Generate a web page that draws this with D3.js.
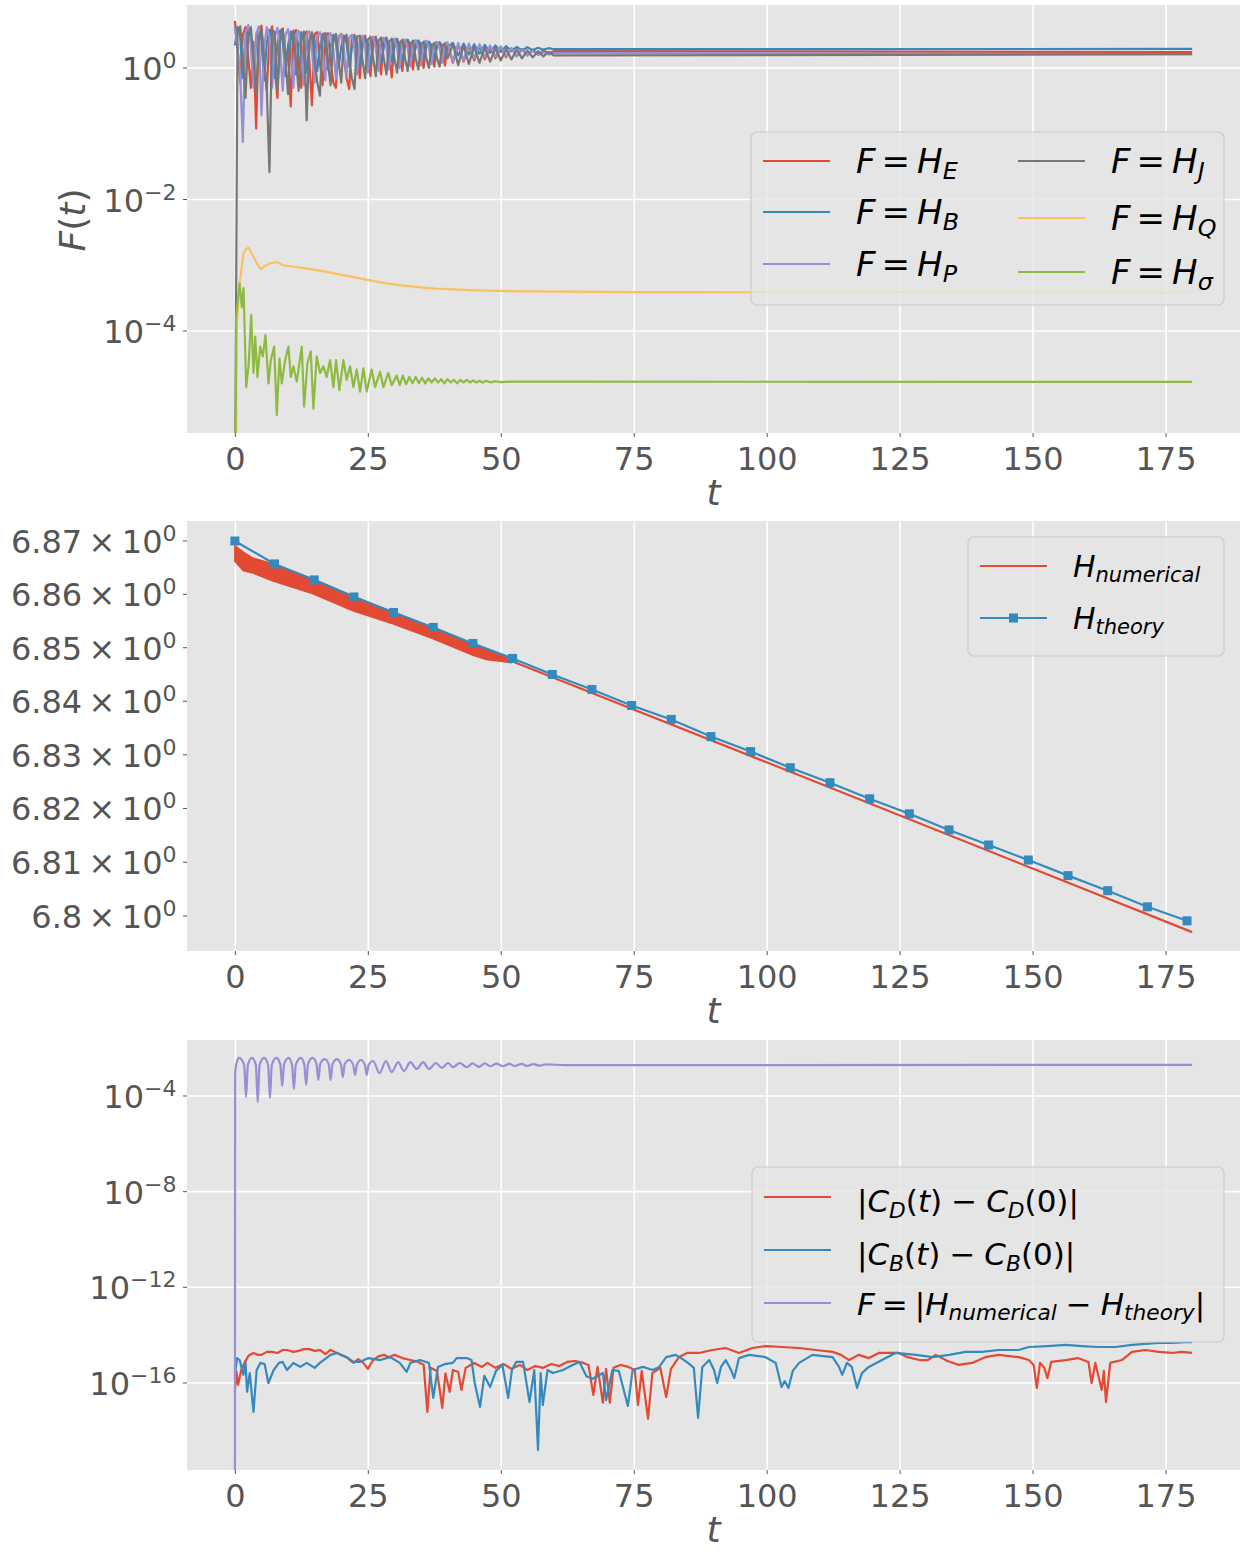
<!DOCTYPE html>
<html lang="en">
<head>
<meta charset="UTF-8">
<title>Hamiltonian diagnostics</title>
<style>
  body { margin: 0; background: #fff; }
  text { font-family: "DejaVu Sans", sans-serif; }
</style>
</head>
<body>
<svg id="svg" width="1244" height="1552"></svg>
<script src="https://d3js.org/d3.v7.min.js"></script>
<script>
// ------ DATA -----------------------------------------------
const xTicks = [0, 25, 50, 75, 100, 125, 150, 175]
const p1Exps = [0, -2, -4]
const p2Ticks = [6.87, 6.86, 6.85, 6.84, 6.83, 6.82, 6.81, 6.8]
const p2Labels = ['6.87', '6.86', '6.85', '6.84', '6.83', '6.82', '6.81', '6.8']
const p3Exps = [-4, -8, -12, -16]

// panel 1, shared sampling times for the four large quantities
const tOsc = [0, 0.5, 1, 1.5, 2, 2.5, 3, 3.5, 4, 4.5,
  5, 5.5, 6, 6.5, 7, 7.5, 8, 8.5, 9, 9.5,
  10, 10.5, 11, 11.5, 12, 12.5, 13, 13.5, 14, 14.5,
  15, 15.5, 16, 16.5, 17, 17.5, 18, 18.5, 19, 19.5,
  20, 20.5, 21, 21.5, 22, 22.5, 23, 23.5, 24, 24.5,
  25, 25.5, 26, 26.5, 27, 27.5, 28, 28.5, 29, 29.5,
  30, 30.5, 31, 31.5, 32, 32.5, 33, 33.5, 34, 34.5,
  35, 35.5, 36, 36.5, 37, 37.5, 38, 38.5, 39, 39.5,
  40,
  41, 42, 43, 44, 45, 46, 47, 48, 49, 50,
  51, 52, 53, 54, 55, 56, 57, 58, 59, 60,
  180]

const hE = [5.2, 2.0, 0.6, 3.2, 4.2, 1.5, 0.5, 2.5, 0.12, 3.5,
  4.4, 1.2, 0.45, 3.0, 4.3, 1.0, 0.35, 3.6, 4.0, 1.4,
  2.0, 0.26, 3.2, 3.8, 1.1, 0.5, 3.0, 3.6, 1.3, 0.27,
  3.3, 3.5, 1.2, 0.55, 3.0, 3.4, 1.3, 0.6, 0.5, 3.0,
  3.3, 1.4, 0.7, 0.48, 2.9, 3.2, 1.5, 0.7, 2.8, 3.1,
  1.6, 0.75, 2.7, 3.0, 1.6, 0.8, 2.7, 2.9, 1.6, 0.72,
  2.6, 2.8, 1.7, 0.9, 2.5, 2.7, 1.7, 0.95, 2.4, 2.6,
  1.8, 1.0, 2.4, 2.5, 1.8, 1.05, 2.3, 2.45, 1.8, 1.1,
  2.3,
  1.2, 2.3, 1.25, 2.2, 1.3, 2.15, 1.35, 2.1, 1.4, 2.05,
  1.45, 2.0, 1.5, 1.95, 1.55, 1.9, 1.6, 1.85, 1.68, 1.8,
  1.75]

const hB = [2.2, 4.2, 3.0, 0.7, 2.6, 4.0, 2.8, 0.6, 2.5, 3.9,
  2.6, 0.65, 2.4, 3.8, 2.7, 0.7, 2.3, 3.7, 2.6, 0.75,
  2.2, 3.6, 2.6, 0.8, 2.2, 3.5, 2.5, 0.85, 2.1, 3.4,
  2.5, 0.9, 2.1, 3.3, 2.4, 0.95, 2.1, 3.2, 2.4, 1.0,
  2.1, 3.1, 2.4, 1.05, 2.1, 3.0, 2.4, 1.1, 2.1, 2.9,
  2.3, 1.15, 2.1, 2.85, 2.3, 1.2, 2.1, 2.8, 2.3, 1.25,
  2.1, 2.7, 2.3, 1.3, 2.1, 2.65, 2.3, 1.35, 2.1, 2.6,
  2.3, 1.4, 2.1, 2.5, 2.2, 1.45, 2.1, 2.45, 2.2, 1.5,
  2.1,
  2.4, 1.55, 2.35, 1.6, 2.3, 1.65, 2.25, 1.7, 2.2, 1.75,
  2.15, 1.8, 2.1, 1.83, 2.07, 1.86, 2.03, 1.9, 2.0, 1.93,
  1.95]

const hP = [4.0, 2.0, 0.8, 0.075, 3.5, 4.5, 2.2, 0.5, 3.3, 4.3,
  0.19, 2.0, 4.2, 3.0, 0.5, 3.0, 4.1, 2.0, 0.45, 3.2,
  3.9, 1.8, 0.5, 3.3, 3.7, 1.8, 0.55, 3.2, 3.6, 1.8,
  0.6, 3.1, 3.5, 1.9, 0.65, 3.0, 3.4, 1.9, 0.7, 2.9,
  3.3, 1.9, 0.75, 2.9, 3.2, 1.9, 0.8, 2.8, 3.1, 2.0,
  0.85, 2.7, 3.0, 2.0, 0.9, 2.7, 2.9, 2.0, 0.95, 2.6,
  2.8, 2.0, 1.0, 2.6, 2.7, 2.0, 1.05, 2.5, 2.65, 2.0,
  1.1, 2.5, 2.6, 2.0, 1.15, 2.4, 2.5, 2.0, 1.2, 2.4,
  2.45,
  1.25, 2.4, 1.3, 2.35, 1.4, 2.3, 1.45, 2.2, 1.5, 2.15,
  1.5, 2.0, 1.52, 1.9, 1.55, 1.8, 1.58, 1.72, 1.6, 1.68,
  1.63]

const hJ = [1e-7, 3.5, 4.3, 1.5, 0.35, 3.0, 4.2, 1.4, 0.4, 2.8,
  4.0, 1.3, 0.5, 0.026, 3.8, 3.5, 0.45, 2.5, 3.8, 1.4,
  0.4, 2.8, 3.7, 1.3, 0.45, 2.8, 3.6, 0.16, 2.5, 3.5,
  1.3, 0.6, 0.38, 3.2, 3.4, 1.2, 0.55, 2.8, 3.3, 1.3,
  0.6, 2.8, 3.2, 1.3, 0.7, 0.48, 3.0, 3.1, 1.3, 0.7,
  2.7, 3.0, 1.4, 0.75, 2.6, 2.9, 1.4, 0.8, 2.5, 2.8,
  1.4, 0.85, 2.4, 2.7, 1.4, 0.9, 2.3, 2.6, 1.4, 0.95,
  2.3, 2.5, 1.4, 1.0, 2.2, 2.4, 1.4, 1.05, 2.2, 2.35,
  1.4,
  2.3, 1.1, 2.2, 1.15, 2.1, 1.2, 2.05, 1.25, 2.0, 1.3,
  1.95, 1.35, 1.9, 1.4, 1.85, 1.45, 1.8, 1.5, 1.75, 1.55,
  1.62]

// [t, F]
const hQ = [[0, 1e-8], [0.38, 1.3e-4], [0.69, 3.0e-4], [1.13, 7.5e-4], [1.63, 1.5e-3], [2.07, 1.75e-3],
  [2.57, 1.85e-3], [3.0, 1.6e-3], [3.5, 1.35e-3], [4.13, 1.07e-3], [4.88, 8.7e-4], [5.7, 9.8e-4],
  [6.63, 1.07e-3], [7.76, 1.12e-3], [9.14, 1.0e-3], [11.01, 9.5e-4], [13.52, 8.9e-4], [16.02, 8.3e-4],
  [19.15, 7.4e-4], [22.29, 6.6e-4], [25.42, 5.9e-4], [28.55, 5.3e-4], [31.68, 4.9e-4], [34.81, 4.6e-4],
  [37.94, 4.4e-4], [41.07, 4.3e-4], [44.21, 4.2e-4], [47.34, 4.1e-4], [55, 4.0e-4], [75, 3.9e-4], [180, 3.85e-4]]

const hSigma = [[0, 1e-8], [0.25, 1.65e-4], [0.88, 5.3e-4], [1.31, 2.3e-4], [1.63, 4.5e-4], [2.13, 1.4e-5],
  [2.57, 2.9e-5], [3.07, 1.75e-4], [3.5, 2.3e-5], [3.82, 8.2e-5], [4.25, 2.0e-5], [4.76, 5.8e-5],
  [5.26, 4.1e-5], [5.76, 8.7e-5], [6.32, 1.6e-5], [6.76, 3.6e-5], [7.39, 5.8e-5], [7.88, 5.3e-6],
  [8.39, 3.8e-5], [8.83, 1.6e-5], [9.45, 3.6e-5], [10.08, 5.8e-5], [10.51, 2.0e-5], [11.01, 2.9e-5],
  [11.64, 1.7e-5], [12.58, 5.8e-5], [13.02, 7.1e-6], [13.64, 3.2e-5], [14.27, 4.9e-5], [14.77, 6.6e-6],
  [15.39, 4.1e-5], [16.02, 2.3e-5], [16.65, 2.9e-5], [17.27, 2.0e-5], [17.9, 3.6e-5], [18.53, 1.4e-5],
  [19.03, 3.6e-5], [19.65, 1.26e-5], [20.41, 3.6e-5], [21.03, 1.8e-5], [21.66, 2.9e-5], [22.29, 1.4e-5],
  [22.91, 2.6e-5], [23.54, 1.2e-5], [24.17, 2.7e-5], [24.79, 1.2e-5], [25.73, 2.6e-5], [26.36, 1.4e-5],
  [27.3, 2.4e-5], [27.92, 1.4e-5], [28.86, 2.3e-5], [29.49, 1.5e-5], [30.43, 2.1e-5], [31.0, 1.5e-5],
  [31.6, 2.1e-5], [32.2, 1.55e-5], [32.8, 2.0e-5], [33.4, 1.6e-5], [34.0, 2.0e-5], [34.6, 1.6e-5],
  [35.2, 1.95e-5], [35.8, 1.6e-5], [36.4, 1.9e-5], [37.0, 1.65e-5], [37.6, 1.9e-5], [38.2, 1.65e-5],
  [38.8, 1.85e-5], [39.4, 1.6e-5], [40.0, 1.85e-5], [40.6, 1.65e-5], [41.2, 1.8e-5], [41.8, 1.6e-5],
  [42.4, 1.8e-5], [43.0, 1.65e-5], [43.6, 1.8e-5], [44.2, 1.65e-5], [44.8, 1.78e-5], [45.4, 1.65e-5],
  [46.0, 1.75e-5], [46.6, 1.65e-5], [47.2, 1.75e-5], [48.0, 1.66e-5], [49.0, 1.72e-5], [50.0, 1.67e-5],
  [52, 1.7e-5], [180, 1.68e-5]]

// panel 2: [t, upper, lower] of the fast-oscillating numerical band, then the single line
const hNumBand = [[0, 6.8691, 6.8662], [1.6, 6.8679, 6.8644], [3.4, 6.8668, 6.8640], [7.2, 6.8657, 6.8625],
  [14.7, 6.8629, 6.8601], [22.2, 6.8597, 6.8569], [29.7, 6.8567, 6.8545], [37.2, 6.8538, 6.8517],
  [44.8, 6.8506, 6.8486], [47.3, 6.8497, 6.8478], [52, 6.8478, 6.8472]]
const hNumLine = [[52, 6.8475], [100, 6.8286], [180, 6.7970]]
const thT = [0, 7.46, 14.92, 22.38, 29.84, 37.3, 44.76, 52.22, 59.68, 67.14, 74.6, 82.06, 89.52,
  96.98, 104.44, 111.9, 119.36, 126.82, 134.28, 141.74, 149.2, 156.66, 164.12, 171.58, 179.04]
const thV = [6.8700, 6.8657, 6.8627, 6.8595, 6.8566, 6.8538, 6.8508, 6.8480, 6.8450, 6.8422, 6.8392,
  6.8366, 6.8334, 6.8306, 6.8276, 6.8248, 6.8218, 6.8190, 6.8160, 6.8132, 6.8104, 6.8075, 6.8047,
  6.8017, 6.7991]

// panel 3: [t, value]
const cD = [[0, 4.3e-17], [0.3, 2.9e-16], [0.6, 8.3e-17], [1.2, 3.5e-16], [1.9, 7.6e-16], [2.6, 1.4e-15],
  [3.5, 1.8e-15], [4.3, 1.5e-15], [5.0, 1.5e-15], [6.0, 2.0e-15], [7.0, 2.0e-15], [8.0, 1.8e-15],
  [9.0, 2.4e-15], [9.8, 2.4e-15], [11.0, 2.0e-15], [12.0, 2.2e-15], [13.0, 2.6e-15], [14.0, 2.6e-15],
  [15.0, 2.2e-15], [16.0, 2.4e-15], [17.0, 1.6e-15], [18.0, 2.4e-15], [19.2, 1.8e-15], [20.2, 1.4e-15],
  [21.0, 1.2e-15], [22.3, 6.9e-16], [23.2, 1.0e-15], [24.0, 7.6e-16], [25.0, 3.9e-16], [26.0, 9.1e-16],
  [27.0, 1.3e-15], [28.0, 1.5e-15], [29.0, 1.2e-15], [30.0, 1.5e-15], [31.5, 1.1e-15], [33.0, 9.1e-16],
  [34.5, 7.6e-16], [35.5, 5.7e-16], [36.2, 6.2e-18], [36.8, 4.3e-16], [38.0, 3.2e-16], [39.0, 9.1e-18],
  [39.6, 2.5e-16], [40.4, 4.3e-17], [41.0, 3.5e-16], [42.0, 2.9e-16], [42.6, 5.1e-17], [43.4, 4.3e-16],
  [45.0, 6.9e-16], [46.5, 4.7e-16], [47.5, 6.9e-16], [49, 4.3e-16], [50.5, 6.2e-16], [52, 3.9e-16],
  [53.6, 5.7e-16], [55, 3.5e-16], [56.5, 5.1e-16], [58, 4.3e-16], [59.5, 6.2e-16], [61, 5.1e-16],
  [62.5, 7.6e-16], [64, 8.3e-16], [65.5, 6.9e-16], [66.5, 5.7e-16], [67.4, 3.2e-17], [68.2, 4.7e-16],
  [69.2, 1.5e-17], [69.8, 3.9e-16], [70.5, 1.5e-17], [71.2, 4.3e-16], [72.5, 5.7e-16], [74, 4.7e-16],
  [75.2, 3.5e-16], [75.8, 1.2e-17], [76.5, 3.2e-16], [77.7, 3.2e-18], [78.5, 2.6e-16], [80, 4.3e-16],
  [81.1, 2.6e-17], [82, 3.9e-16], [83.5, 1.2e-15], [85, 1.8e-15], [87.3, 1.8e-15], [89.8, 2.4e-15],
  [92.3, 2.9e-15], [94.8, 1.8e-15], [97.3, 2.9e-15], [99.8, 3.5e-15], [102.9, 3.2e-15], [106.1, 2.9e-15],
  [109.2, 2.4e-15], [112.4, 2.0e-15], [114, 1.5e-15], [115.5, 9.1e-16], [117.3, 1.5e-15], [119.2, 1.1e-15],
  [121.1, 1.8e-15], [124.8, 1.8e-15], [126.5, 1.2e-15], [128.7, 9.1e-16], [130.3, 9.1e-16], [131.8, 1.5e-15],
  [134, 8.3e-16], [136.1, 5.7e-16], [138.6, 6.9e-16], [141.1, 1.2e-15], [143.6, 1.5e-15], [147.4, 1.2e-15],
  [149.3, 9.1e-16], [150.2, 5.7e-16], [150.8, 6.2e-17], [151.4, 6.9e-16], [152.2, 4.3e-16], [152.8, 1.6e-16],
  [153.5, 7.6e-16], [156.2, 9.1e-16], [158.5, 1.1e-15], [160.5, 7.6e-16], [161.1, 1.0e-16], [161.8, 6.9e-16],
  [163.0, 5.1e-17], [163.4, 3.2e-16], [163.8, 1.6e-17], [164.6, 6.9e-16], [166.8, 9.1e-16], [168.7, 2.0e-15],
  [171.2, 2.4e-15], [173.7, 2.0e-15], [176.2, 1.8e-15], [178.0, 2.0e-15], [180, 1.8e-15]]

const cB = [[0, 2.0e-16], [0.4, 1.1e-15], [0.9, 9.1e-16], [1.6, 2.2e-16], [2.0, 6.9e-16], [2.3, 4.3e-17],
  [2.8, 2.6e-16], [3.5, 6.2e-18], [4.1, 3.5e-16], [4.8, 6.9e-16], [5.6, 6.2e-16], [6.3, 1.0e-16],
  [7.3, 3.5e-16], [8.3, 6.9e-16], [9.0, 7.6e-16], [9.8, 3.5e-16], [11.0, 6.9e-16], [12.3, 4.7e-16],
  [13.5, 6.9e-16], [15.0, 4.3e-16], [16.0, 6.9e-16], [18.0, 1.5e-15], [19.2, 1.8e-15], [21.0, 1.2e-15],
  [22.3, 7.6e-16], [23.5, 7.6e-16], [25.1, 1.1e-15], [27.3, 9.1e-16], [29.2, 1.2e-15], [31.0, 6.9e-16],
  [32.3, 2.9e-16], [33.0, 6.9e-16], [34.8, 9.1e-16], [36.5, 6.9e-16], [37.3, 2.4e-17], [38.2, 4.7e-16],
  [39.5, 6.2e-16], [41.0, 6.9e-16], [41.7, 1.1e-15], [43.6, 1.1e-15], [44.5, 9.1e-16], [45.1, 1.0e-16],
  [46.1, 1.0e-17], [46.9, 2.0e-16], [48.0, 6.8e-17], [49.1, 3.2e-16], [50.3, 5.7e-16], [51.4, 2.4e-17],
  [52.1, 3.5e-16], [52.9, 7.6e-16], [54.2, 7.6e-16], [55.4, 1.6e-17], [56.3, 3.5e-16], [57.0, 1.6e-19],
  [57.5, 2.6e-16], [57.9, 1.2e-17], [58.8, 3.5e-16], [59.8, 2.6e-16], [61.7, 3.5e-16], [63.5, 5.7e-16],
  [64.8, 7.6e-16], [66.1, 1.9e-16], [67.3, 1.5e-16], [69.2, 2.6e-16], [69.8, 1.9e-17], [71.0, 3.5e-16],
  [72.2, 3.2e-16], [73.9, 1.1e-17], [74.8, 3.5e-16], [76.7, 4.7e-16], [78.6, 3.5e-16], [79.8, 4.7e-16],
  [81.1, 1.2e-15], [82.9, 1.5e-15], [84.2, 1.0e-15], [85.2, 6.9e-16], [86.3, 4.3e-16], [87.1, 3.5e-18],
  [87.9, 4.7e-16], [89.2, 9.1e-16], [90.1, 3.5e-16], [90.7, 1.0e-16], [91.4, 4.7e-16], [92.3, 9.1e-16],
  [93.3, 3.5e-16], [93.9, 1.6e-16], [94.8, 1.1e-15], [96.7, 1.5e-15], [99.8, 1.2e-15], [101.7, 6.9e-16],
  [102.8, 6.8e-17], [103.4, 1.2e-16], [104.1, 6.2e-17], [104.9, 3.2e-16], [106.1, 6.9e-16], [108.6, 1.5e-15],
  [112.4, 1.2e-15], [113.6, 4.7e-16], [114.2, 2.2e-16], [115.1, 6.9e-16], [116.0, 4.7e-16], [117.0, 6.2e-17],
  [117.9, 2.6e-16], [119.2, 4.7e-16], [121.7, 9.1e-16], [124.2, 1.8e-15], [128.1, 1.5e-15], [131.2, 1.2e-15],
  [134.3, 1.5e-15], [137.4, 2.0e-15], [140.5, 2.0e-15], [143.6, 2.4e-15], [147.4, 2.4e-15], [149.3, 3.2e-15],
  [152.8, 3.5e-15], [156.2, 3.9e-15], [159.3, 3.5e-15], [162.4, 3.2e-15], [165.6, 3.2e-15], [168.7, 3.9e-15],
  [171.2, 4.3e-15], [173.7, 4.7e-15], [176.2, 4.7e-15], [178.7, 5.1e-15], [180, 5.1e-15]]

const hDiff = [[0, 1e-30], [0.05, 9.1e-4], [0.35, 2.6e-3], [0.8, 3.9e-3],
  [1.75, 2.0e-3], [2.1, 9.1e-5], [2.45, 2.0e-3], [3.2, 3.9e-3],
  [3.95, 2.0e-3], [4.3, 5.6e-5], [4.65, 2.0e-3], [5.5, 3.9e-3],
  [6.25, 2.0e-3], [6.6, 8.3e-5], [6.95, 2.0e-3], [7.8, 3.9e-3],
  [8.55, 2.1e-3], [8.9, 2.6e-4], [9.25, 2.1e-3], [10.1, 3.9e-3],
  [10.75, 2.0e-3], [11.1, 1.95e-4], [11.45, 2.0e-3], [12.4, 3.9e-3],
  [13.05, 2.1e-3], [13.4, 2.9e-4], [13.75, 2.1e-3], [14.6, 3.9e-3],
  [15.35, 2.2e-3], [15.7, 4.7e-4], [16.05, 2.2e-3], [16.9, 3.5e-3],
  [17.65, 2.1e-3], [18.0, 4.7e-4], [18.35, 2.1e-3], [19.2, 3.5e-3],
  [19.95, 2.1e-3], [20.3, 6.2e-4], [20.65, 2.1e-3], [21.5, 3.2e-3],
  [22.25, 2.0e-3], [22.6, 7.6e-4], [22.95, 2.0e-3], [23.7, 3.2e-3],
  [24.45, 2.0e-3], [24.8, 7.6e-4], [25.15, 2.0e-3], [26.0, 2.9e-3],
  [27.2, 9.1e-4], [28.4, 2.9e-3], [29.5, 1.0e-3], [30.7, 2.6e-3], [31.8, 1.1e-3], [33.0, 2.6e-3],
  [34.2, 1.35e-3], [35.4, 2.6e-3], [36.5, 1.35e-3], [37.8, 2.4e-3], [38.9, 1.5e-3], [40.1, 2.4e-3],
  [41.0, 1.6e-3], [42.3, 2.4e-3], [43.6, 1.6e-3], [44.7, 2.3e-3], [45.9, 1.65e-3], [47.0, 2.3e-3],
  [48.1, 1.75e-3], [49.2, 2.25e-3], [50.4, 1.75e-3], [51.6, 2.2e-3], [52.6, 1.8e-3], [53.9, 2.2e-3],
  [55.0, 1.8e-3], [56.1, 2.15e-3], [57.3, 1.85e-3], [58.5, 2.1e-3], [62, 1.95e-3], [180, 2.0e-3]]

// ------ SETUP ------------------------
const colors = { red: '#E24A33', blue: '#348ABD', purple: '#988ED5', gray: '#777777', yellow: '#FBC15E', green: '#8EBA42' }
const svg = d3.select('#svg')
const left = 187
const plotW = 1053
const lw = 2.2

const x = d3.scaleLinear().domain([-9, 189]).range([0, plotW])

const panels = [
  { top: 5, h: 428, y: d3.scaleLog().domain([10 ** -5.551, 10 ** 0.958]).range([428, 0]) },
  { top: 521, h: 430, y: d3.scaleLog().domain([6.7935, 6.87375]).range([430, 0]) },
  { top: 1040, h: 430, y: d3.scaleLog().domain([10 ** -19.638, 10 ** -1.659]).range([430, 0]) }
]

// draws frame, grid, ticks; returns the panel group
function drawPanel(p, i, hGrid) {
  const g = svg.append('g').attr('transform', `translate(${left},${p.top})`)
  g.append('rect').attr('width', plotW).attr('height', p.h).attr('fill', '#e5e5e5')
  g.append('clipPath').attr('id', 'clip' + i).append('rect').attr('width', plotW).attr('height', p.h)

  // vertical grid
  g.append('g')
    .call(d3.axisBottom(x).tickValues(xTicks).tickSize(p.h).tickFormat(''))
    .call(a => a.select('.domain').remove())
    .call(a => a.selectAll('line').attr('stroke', '#fff').attr('stroke-width', 1.6))
  // horizontal grid
  g.append('g').selectAll('line').data(hGrid).join('line')
    .attr('x1', 0).attr('x2', plotW)
    .attr('y1', d => p.y(d)).attr('y2', d => p.y(d))
    .attr('stroke', '#fff').attr('stroke-width', 1.6)

  // x axis
  g.append('g').attr('transform', `translate(0,${p.h})`)
    .call(d3.axisBottom(x).tickValues(xTicks).tickSize(4).tickPadding(10))
    .call(a => a.select('.domain').remove())
    .call(a => a.selectAll('line').attr('stroke', '#555'))
    .call(a => a.selectAll('text').attr('fill', '#555').attr('font-size', 32).attr('font-family', 'DejaVu Sans'))

  // x label
  g.append('text').attr('x', plotW / 2).attr('y', p.h + 72).attr('text-anchor', 'middle')
    .attr('font-size', 36).attr('font-style', 'italic').attr('fill', '#555').text('t')

  return g
}

function yTickLabels(g, p, vals, labelFn) {
  vals.forEach((v, k) => {
    const yy = p.y(v)
    g.append('line').attr('x1', -4).attr('x2', 0).attr('y1', yy).attr('y2', yy).attr('stroke', '#555')
    const txt = g.append('text').attr('x', -10.5).attr('y', yy + 12)
      .attr('text-anchor', 'end').attr('fill', '#555').attr('font-size', 32)
    labelFn(txt, v, k)
  })
}

function powLabel(txt, e) {
  txt.append('tspan').text('10')
  txt.append('tspan').attr('font-size', 22).attr('dy', -12).text(String(e).replace('-', '\u2212'))
}

// parts: [text, kind, dx]; kind: i italic, r roman, si italic subscript
function mathText(txt, parts, size) {
  let cur = 0
  parts.forEach(([s, kind, dx]) => {
    const sub = kind === 'si'
    const off = sub ? size * 0.19 : 0
    const ts = txt.append('tspan').text(s)
      .attr('font-size', sub ? size * 0.7 : size)
      .attr('font-style', kind === 'r' ? 'normal' : 'italic')
    if (off !== cur) ts.attr('dy', off - cur)
    if (dx) ts.attr('dx', dx)
    cur = off
  })
}

function legendBox(x0, y0, w, h) {
  svg.append('rect').attr('x', x0).attr('y', y0).attr('width', w).attr('height', h).attr('rx', 6)
    .attr('fill', '#e5e5e5').attr('fill-opacity', 0.8).attr('stroke', '#cccccc').attr('stroke-width', 1.2)
}

function legendEntry(lx, ly, color, parts, size, baseOff, marker) {
  svg.append('line').attr('x1', lx).attr('x2', lx + 67).attr('y1', ly).attr('y2', ly)
    .attr('stroke', color).attr('stroke-width', lw)
  if (marker) {
    svg.append('rect').attr('x', lx + 33.5 - 4.5).attr('y', ly - 4.5).attr('width', 9).attr('height', 9).attr('fill', color)
  }
  const txt = svg.append('text').attr('x', lx + 93).attr('y', ly + baseOff).attr('fill', '#000')
  mathText(txt, parts, size)
}

// ------ PANEL 1 ------------------------
{
  const p = panels[0]
  const g = drawPanel(p, 0, p1Exps.map(e => 10 ** e))
  yTickLabels(g, p, p1Exps.map(e => 10 ** e), (txt, v, k) => powLabel(txt, p1Exps[k]))
  g.append('text').attr('transform', `translate(${85 - left},${220 - p.top}) rotate(-90)`)
    .attr('text-anchor', 'middle').attr('fill', '#555')
    .call(t => mathText(t, [['F', 'i'], ['(', 'r'], ['t', 'i'], [')', 'r']], 36))

  const line = d3.line().x(d => x(d[0])).y(d => p.y(d[1]))
  const marks = g.append('g').attr('clip-path', 'url(#clip0)')
  const zipT = vals => tOsc.map((t, i) => [t, vals[i]]).filter(d => d[1] != null)
  const series = [
    [zipT(hE), colors.red], [zipT(hB), colors.blue], [zipT(hP), colors.purple],
    [zipT(hJ), colors.gray], [hQ, colors.yellow], [hSigma, colors.green]
  ]
  series.forEach(([d, c]) => {
    marks.append('path').datum(d).attr('d', line).attr('fill', 'none')
      .attr('stroke', c).attr('stroke-width', lw).attr('stroke-linejoin', 'round')
  })
}

// ------ PANEL 2 ------------------------
{
  const p = panels[1]
  const g = drawPanel(p, 1, [])
  yTickLabels(g, p, p2Ticks, (txt, v, k) => {
    txt.append('tspan').text(p2Labels[k] + '\u2009\u00d7\u200910')
    txt.append('tspan').attr('font-size', 22).attr('dy', -12).text('0')
  })
  const marks = g.append('g').attr('clip-path', 'url(#clip1)')
  const area = d3.area().x(d => x(d[0])).y0(d => p.y(d[2])).y1(d => p.y(d[1]))
  marks.append('path').datum(hNumBand).attr('d', area).attr('fill', colors.red)
    .attr('stroke', colors.red).attr('stroke-width', 1.5).attr('stroke-linejoin', 'round')
  const line = d3.line().x(d => x(d[0])).y(d => p.y(d[1]))
  marks.append('path').datum(hNumLine).attr('d', line).attr('fill', 'none')
    .attr('stroke', colors.red).attr('stroke-width', lw)

  const th = thT.map((t, i) => [t, thV[i]])
  marks.append('path').datum(th).attr('d', line).attr('fill', 'none')
    .attr('stroke', colors.blue).attr('stroke-width', lw)
  marks.selectAll('rect.mk').data(th).join('rect').attr('class', 'mk')
    .attr('x', d => x(d[0]) - 4.5).attr('y', d => p.y(d[1]) - 4.5)
    .attr('width', 9).attr('height', 9).attr('fill', colors.blue)
}

// ------ PANEL 3 ------------------------
{
  const p = panels[2]
  const g = drawPanel(p, 2, p3Exps.map(e => 10 ** e))
  yTickLabels(g, p, p3Exps.map(e => 10 ** e), (txt, v, k) => powLabel(txt, p3Exps[k]))
  const marks = g.append('g').attr('clip-path', 'url(#clip2)')
  const line = d3.line().x(d => x(d[0])).y(d => p.y(d[1]))
  marks.append('path').datum(cD).attr('d', line).attr('fill', 'none')
    .attr('stroke', colors.red).attr('stroke-width', lw).attr('stroke-linejoin', 'round')
  marks.append('path').datum(cB).attr('d', line).attr('fill', 'none')
    .attr('stroke', colors.blue).attr('stroke-width', lw).attr('stroke-linejoin', 'round')
  marks.append('path').datum(hDiff).attr('d', line.curve(d3.curveMonotoneX)).attr('fill', 'none')
    .attr('stroke', colors.purple).attr('stroke-width', lw).attr('stroke-linejoin', 'round')
}

// ------ LEGENDS ------------------------
const eqParts = sub => [['F', 'i'], ['=', 'r', 6], ['H', 'i', 7], [sub, 'si']]
legendBox(751, 132, 473, 173)
legendEntry(763, 161, colors.red, eqParts('E'), 34, 11.5)
legendEntry(763, 212, colors.blue, eqParts('B'), 34, 11.5)
legendEntry(763, 264, colors.purple, eqParts('P'), 34, 11.5)
legendEntry(1018, 161, colors.gray, eqParts('J'), 34, 11.5)
legendEntry(1018, 218, colors.yellow, eqParts('Q'), 34, 11.5)
legendEntry(1018, 272, colors.green, eqParts('\u03c3'), 34, 11.5)

legendBox(968, 537, 256, 119)
legendEntry(980, 566, colors.red, [['H', 'i'], ['numerical', 'si']], 30, 10.5)
legendEntry(980, 618, colors.blue, [['H', 'i'], ['theory', 'si']], 30, 10.5, true)

legendBox(752, 1167, 472, 175)
legendEntry(764, 1197, colors.red, [['|', 'r'], ['C', 'i'], ['D', 'si'], ['(', 'r'], ['t', 'i'], [')', 'r'],
  ['\u2212', 'r', 9], ['C', 'i', 9], ['D', 'si'], ['(0)|', 'r']], 31, 15)
legendEntry(764, 1250, colors.blue, [['|', 'r'], ['C', 'i'], ['B', 'si'], ['(', 'r'], ['t', 'i'], [')', 'r'],
  ['\u2212', 'r', 9], ['C', 'i', 9], ['B', 'si'], ['(0)|', 'r']], 31, 15)
legendEntry(764, 1303, colors.purple, [['F', 'i'], ['=', 'r', 7], ['|', 'r', 7], ['H', 'i'], ['numerical', 'si'],
  ['\u2212', 'r', 9], ['H', 'i', 9], ['theory', 'si'], ['|', 'r']], 31, 11.5)
</script>
</body>
</html>
